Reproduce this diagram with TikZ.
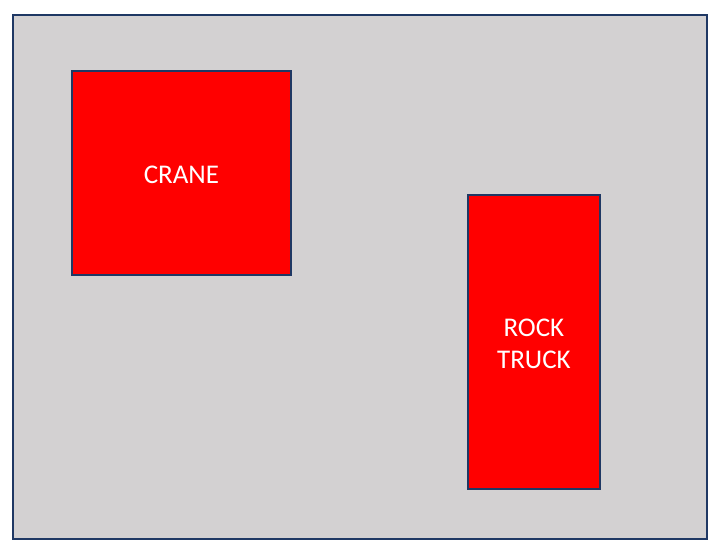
\documentclass[tikz,border=0pt]{standalone}
\usepackage{fontspec}
\setmainfont{Carlito}
\definecolor{bordc}{HTML}{1F3864}
\definecolor{bgc}{HTML}{D3D1D2}
\definecolor{boxred}{HTML}{FF0000}
\tikzset{
  area/.style={draw=bordc, fill=bgc, line width=1.8pt},
  machine/.style={draw=bordc, fill=boxred, line width=1.8pt, text=white,
    font=\fontsize{27}{32}\selectfont, align=center, inner sep=0pt}
}
\begin{document}
\begin{tikzpicture}[x=1pt,y=-1pt]
\useasboundingbox (0,0) rectangle (717,550);
\node[area, minimum width=694pt, minimum height=524pt, anchor=north west] (site) at (12,14) {};
\node[machine, minimum width=219pt, minimum height=204pt, anchor=north west] (crane) at (71,70) {};
\node[machine, minimum width=132pt, minimum height=294pt, anchor=north west] (truck) at (467,194) {};
\node[text=white, font=\fontsize{27}{32}\selectfont, align=center, inner sep=0pt] (cranelabel) at ([yshift=-1.5pt]crane.center) {CRANE};
\node[text=white, font=\fontsize{27}{32}\selectfont, align=center, inner sep=0pt] (trucklabel) at ([yshift=-1.5pt]truck.center) {ROCK\\TRUCK};
\end{tikzpicture}
\end{document}
